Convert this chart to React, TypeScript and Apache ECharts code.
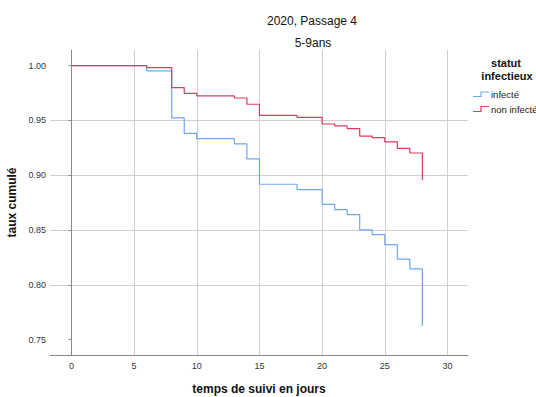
import React, { useEffect, useRef } from "react";
import * as echarts from "echarts";

// Kaplan-Meier style cumulative rates, one value per event day
const days = [0, 6, 8, 9, 10, 13, 14, 15, 18, 20, 21, 22, 23, 24, 25, 26, 27, 28];
const infecte = [
  1.0, 0.9952, 0.9523, 0.9383, 0.9334, 0.9286, 0.9149, 0.8918, 0.8869, 0.8735,
  0.8686, 0.864, 0.8501, 0.8458, 0.8367, 0.8234, 0.8145, 0.7628,
];
const nonInfecte = [
  1.0, 0.9982, 0.98, 0.9748, 0.9724, 0.9705, 0.9648, 0.9547, 0.9529, 0.9468,
  0.945, 0.9425, 0.9358, 0.9343, 0.9304, 0.9246, 0.9203, 0.8957,
];
const xTicks = [0, 5, 10, 15, 20, 25, 30];
const yTicks = [0.75, 0.8, 0.85, 0.9, 0.95, 1.0];
const groupNames = ["infecté", "non infecté"];

const BLUE = "#72a6ec";
const RED = "#dc3a5e";
const FONT = "'Liberation Sans', Arial, sans-serif";

export default function App() {
  const ref = useRef<HTMLDivElement>(null);

  useEffect(() => {
    if (!ref.current) return;
    const chart = echarts.init(ref.current, undefined, { renderer: "svg" });

    const toPairs = (vals: number[]) => days.map((d, i) => [d, vals[i]]);

    chart.setOption({
      animation: false,
      backgroundColor: "#ffffff",
      textStyle: { fontFamily: FONT },
      grid: {
        left: 50,
        right: 68,
        top: 50,
        bottom: 42,
        containLabel: false,
        outerBoundsMode: "none",
      },
      xAxis: {
        type: "value",
        min: -1.71,
        max: 31.64,
        axisLine: { show: true, lineStyle: { color: "#8a8a8a", width: 1 } },
        axisTick: { show: false },
        axisLabel: {
          customValues: xTicks,
          color: "#333",
          fontSize: 9,
          margin: 6,
          fontFamily: FONT,
          formatter: (v: number) => String(Math.round(v)),
        },
        splitLine: {
          show: true,
          showMinLine: false,
          showMaxLine: false,
          lineStyle: { color: "#cfcfcf", width: 1 },
        },
        name: "temps de suivi en jours",
        nameLocation: "middle",
        nameGap: 28,
        nameTextStyle: { fontSize: 12, fontWeight: "bold", color: "#111", fontFamily: FONT },
      },
      yAxis: {
        type: "value",
        min: 0.736,
        max: 1.0143,
        axisLine: { show: true, lineStyle: { color: "#8a8a8a", width: 1 } },
        axisTick: { show: true, length: 3, customValues: yTicks, lineStyle: { color: "#8a8a8a" } },
        axisLabel: {
          customValues: yTicks,
          color: "#333",
          fontSize: 9,
          margin: 4,
          fontFamily: FONT,
          formatter: (v: number) => v.toFixed(2),
        },
        splitLine: {
          show: true,
          showMinLine: false,
          showMaxLine: false,
          lineStyle: { color: "#cfcfcf", width: 1 },
        },
        name: "taux cumulé",
        nameLocation: "middle",
        nameGap: 30,
        nameRotate: 90,
        nameTextStyle: { fontSize: 12, fontWeight: "bold", color: "#111", fontFamily: FONT },
      },
      series: [
        {
          name: groupNames[0],
          type: "line",
          step: "end",
          showSymbol: false,
          symbol: "none",
          data: toPairs(infecte),
          lineStyle: { color: BLUE, width: 1.2 },
          itemStyle: { color: BLUE },
          z: 2,
        },
        {
          name: groupNames[1],
          type: "line",
          step: "end",
          showSymbol: false,
          symbol: "none",
          data: toPairs(nonInfecte),
          lineStyle: { color: RED, width: 1.2 },
          itemStyle: { color: RED },
          z: 3,
        },
      ],
      graphic: [
        {
          type: "text",
          x: 312,
          y: 20.5,
          style: {
            text: "2020, Passage 4",
            font: `12px ${FONT}`,
            fill: "#111",
            align: "center",
            verticalAlign: "middle",
          },
        },
        {
          type: "text",
          x: 313,
          y: 42.5,
          style: {
            text: "5-9ans",
            font: `12px ${FONT}`,
            fill: "#111",
            align: "center",
            verticalAlign: "middle",
          },
        },
        {
          type: "text",
          x: 506,
          y: 63,
          style: {
            text: "statut",
            font: `bold 11px ${FONT}`,
            fill: "#111",
            align: "center",
            verticalAlign: "middle",
          },
        },
        {
          type: "text",
          x: 507,
          y: 76,
          style: {
            text: "infectieux",
            font: `bold 11px ${FONT}`,
            fill: "#111",
            align: "center",
            verticalAlign: "middle",
          },
        },
        {
          type: "polyline",
          shape: { points: [[473, 96.5], [481, 96.5], [481, 92], [489, 92]] },
          style: { stroke: BLUE, lineWidth: 1.2, fill: "none" },
        },
        {
          type: "text",
          x: 491,
          y: 94.5,
          style: {
            text: groupNames[0],
            font: `9.5px ${FONT}`,
            fill: "#222",
            align: "left",
            verticalAlign: "middle",
          },
        },
        {
          type: "polyline",
          shape: { points: [[473, 111.5], [481, 111.5], [481, 106.5], [489, 106.5]] },
          style: { stroke: RED, lineWidth: 1.2, fill: "none" },
        },
        {
          type: "text",
          x: 491,
          y: 109.5,
          style: {
            text: groupNames[1],
            font: `9.5px ${FONT}`,
            fill: "#222",
            align: "left",
            verticalAlign: "middle",
          },
        },
      ],
    });

    return () => chart.dispose();
  }, []);

  return (
    <div
      ref={ref}
      style={{ position: "absolute", left: 0, top: 0, width: 536, height: 397, background: "#fff" }}
    />
  );
}
